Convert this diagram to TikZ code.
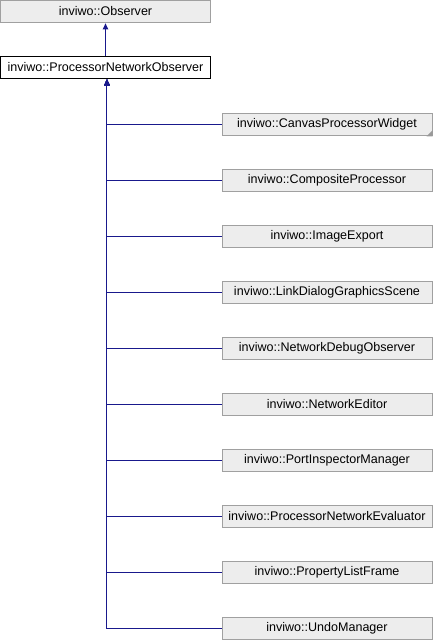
\documentclass[tikz,border=0pt]{standalone}
\usepackage{fontspec}
\setmainfont{Liberation Sans}
\usetikzlibrary{arrows.meta,positioning}
\definecolor{edgeblue}{RGB}{25,25,140}
\definecolor{boxgray}{RGB}{237,237,237}
\definecolor{linegray}{RGB}{160,160,160}
\begin{document}
\begin{tikzpicture}
  [x=0.75pt,y=-0.75pt,node distance=42pt,on grid,
   >={Triangle[length=4.5pt,width=4pt]},
   klass/.style={rectangle,draw=linegray,fill=boxgray,line width=0.75pt,inner sep=0pt,
     minimum width=157.5pt,minimum height=17pt,font=\fontsize{9.4}{11}\selectfont},
   this klass/.style={klass,draw=black,fill=white},
   inherit/.style={->,draw=edgeblue,line width=0.75pt}]

  \useasboundingbox (0,0) rectangle (434,640);

  % base classes
  \node [klass,minimum width=158pt] (obs) at (105.5,11.5) {inviwo::Observer};
  \node [this klass,minimum width=158pt] (pno) [below=of obs] {inviwo::ProcessorNetworkObserver};

  % derived classes
  \node [klass] (cpw) at (327,124.5)   {inviwo::CanvasProcessorWidget};
  \node [klass] (comp) [below=of cpw]  {inviwo::CompositeProcessor};
  \node [klass] (imex) [below=of comp] {inviwo::ImageExport};
  \node [klass] (ldgs) [below=of imex] {inviwo::LinkDialogGraphicsScene};
  \node [klass] (ndo)  [below=of ldgs] {inviwo::NetworkDebugObserver};
  \node [klass] (ned)  [below=of ndo]  {inviwo::NetworkEditor};
  \node [klass] (pim)  [below=of ned]  {inviwo::PortInspectorManager};
  \node [klass] (pne)  [below=of pim]  {inviwo::ProcessorNetworkEvaluator};
  \node [klass] (plf)  [below=of pne]  {inviwo::PropertyListFrame};
  \node [klass] (undo) [below=of plf]  {inviwo::UndoManager};

  % truncated marker
  \fill [black!40] (cpw.south east) -- ++(0,-6) -- ++(-6,6) -- cycle;

  \draw [inherit] (pno.north) -- (obs.south);
  \foreach \kid in {cpw,comp,imex,ldgs,ndo,ned,pim,pne,plf,undo}
    \draw [inherit] (\kid.west) -| ([xshift=1.1pt]pno.south);

\end{tikzpicture}
\end{document}
